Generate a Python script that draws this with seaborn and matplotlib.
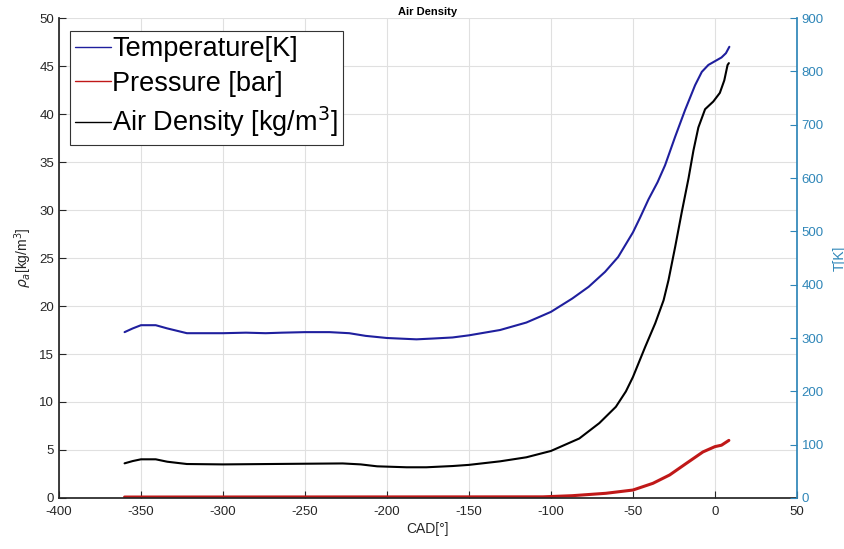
import matplotlib
matplotlib.use("Agg")
import matplotlib.pyplot as plt
import seaborn as sns
import pandas as pd

# ---- data ----
cad_T = [-360, -355, -350, -341, -334, -322, -300, -286, -274, -264, -250, -235, -223,
         -213, -200, -182, -172, -160, -150, -131, -115, -106.7, -100, -87, -77, -67,
         -59, -50, -45.6, -40.5, -35, -30.4, -24.3, -18.2, -12.1, -8, -4, 0, 4, 6.7, 8.8]
temperature = [311, 318, 324, 324, 318, 309, 309, 310, 309, 310, 311, 311, 309,
               304, 300, 297.5, 299, 301, 305, 315, 329, 340, 349, 374, 396, 424,
               452, 498, 526, 560, 592, 624, 677, 727.5, 774, 799, 812, 819, 826, 834, 846]

cad_rho = [-360, -355, -350, -341, -334, -322, -300, -250, -227, -216, -206, -188,
           -176, -160, -150, -131, -115, -100, -82.7, -70.5, -60.4, -54.3, -50,
           -42.5, -36.4, -31.3, -28.3, -24.2, -20.2, -16.1, -13.1, -10.1, -6, -1,
           3, 5.7, 7.7, 8.5]
density = [3.61, 3.85, 4.03, 4.03, 3.78, 3.54, 3.5, 3.57, 3.6, 3.5, 3.3, 3.2,
           3.2, 3.33, 3.45, 3.82, 4.24, 4.9, 6.2, 7.8, 9.5, 11.1, 12.6,
           15.75, 18.2, 20.6, 22.7, 26.2, 29.8, 33.3, 36.2, 38.6, 40.5, 41.3,
           42.2, 43.5, 45.1, 45.3]

cad_p = [-360, -105, -87, -66.5, -50, -37.8, -27.6, -17.5, -7.3, 0, 4, 8.5]
pressure = [0.1, 0.12, 0.24, 0.49, 0.83, 1.53, 2.4, 3.6, 4.8, 5.35, 5.5, 6.0]

x_ticks = [-400, -350, -300, -250, -200, -150, -100, -50, 0, 50]
left_ticks = [0, 5, 10, 15, 20, 25, 30, 35, 40, 45, 50]
right_ticks = [0, 100, 200, 300, 400, 500, 600, 700, 800, 900]

df_T = pd.DataFrame({"CAD": cad_T, "T": temperature})
df_rho = pd.DataFrame({"CAD": cad_rho, "rho": density})
df_p = pd.DataFrame({"CAD": cad_p, "p": pressure})

sns.set_theme(style="white")
plt.rcParams["font.family"] = ["Liberation Sans", "DejaVu Sans"]
plt.rcParams["axes.unicode_minus"] = False

blue_line = "#1f1f9e"
red_line = "#c01818"
axis_blue = "#2f86b8"
txt = "#262626"

fig = plt.figure(figsize=(8.45, 5.49), dpi=100)
ax = fig.add_axes([0.0698, 0.0929, 0.8733, 0.8743])
ax2 = ax.twinx()

sns.lineplot(data=df_rho, x="CAD", y="rho", ax=ax, color="black", lw=1.5,
             label="Air Density [kg/m$^3$]", legend=False)
sns.lineplot(data=df_p, x="CAD", y="p", ax=ax, color=red_line, lw=2.2,
             label="Pressure [bar]", legend=False)
sns.lineplot(data=df_T, x="CAD", y="T", ax=ax2, color=blue_line, lw=1.5,
             label="Temperature[K]", legend=False)

ax.set_xlim(-400, 50)
ax.set_ylim(0, 50)
ax2.set_ylim(0, 900)
ax.set_xticks(x_ticks)
ax.set_yticks(left_ticks)
ax2.set_yticks(right_ticks)

ax.grid(True, color="#e0e0e0", lw=0.8)
ax.set_axisbelow(True)

for a in (ax, ax2):
    a.spines["top"].set_visible(False)
ax.spines["right"].set_visible(False)
ax.spines["left"].set_color(txt)
ax.spines["bottom"].set_color(txt)
ax2.spines["left"].set_visible(False)
ax2.spines["bottom"].set_visible(False)
ax2.spines["right"].set_color(axis_blue)

ax.tick_params(axis="both", direction="in", length=5, width=0.8, colors=txt,
               labelsize=9.5, left=True, bottom=True)
ax.tick_params(axis="x", pad=6)
ax2.tick_params(axis="y", direction="in", length=5, width=0.8, colors=axis_blue,
                labelsize=9.5, right=True)

ax.set_xlabel("CAD[°]", fontsize=10, color=txt, labelpad=3)
ax.set_ylabel(r"$\rho_a$[kg/m$^3$]", fontsize=10, color=txt, labelpad=4)
ax2.set_ylabel("T[K]", fontsize=10, color=axis_blue, labelpad=6)
ax.set_title("Air Density", fontsize=8, fontweight="bold", color="black", pad=2)

h1, l1 = ax2.get_legend_handles_labels()
h2, l2 = ax.get_legend_handles_labels()
handles = h1 + h2[::-1]
labels = l1 + l2[::-1]
leg = ax2.legend(handles, labels, loc="upper left", bbox_to_anchor=(0.015, 0.973),
                 fontsize=19.5, frameon=True, fancybox=False, framealpha=1,
                 edgecolor="#333333", handlelength=1.3, handletextpad=0.05,
                 borderpad=0.2, labelspacing=0.3, borderaxespad=0,
                 labelcolor="black")
for lh in leg.get_lines():
    lh.set_linewidth(1.0)
leg.get_frame().set_linewidth(0.8)

fig.savefig("out.png", dpi=100)
